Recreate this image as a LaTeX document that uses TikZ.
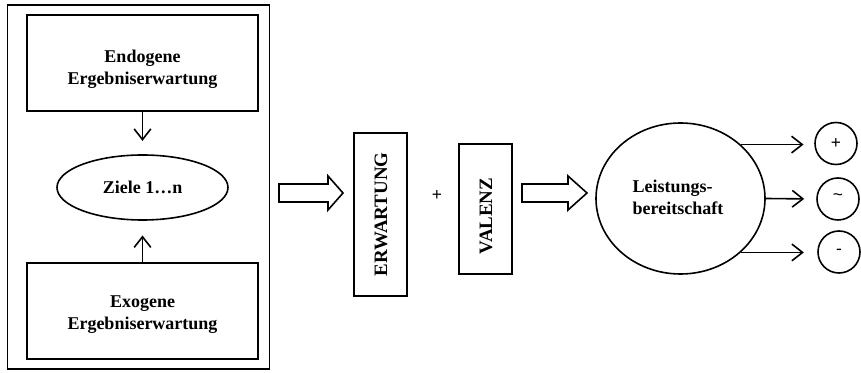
\documentclass[tikz,border=0pt]{standalone}
\usepackage{fontspec}
\setmainfont{Liberation Serif}
\newfontfamily\signfont{Liberation Sans}
\usetikzlibrary{arrows.meta,shapes.geometric}

\tikzset{
  box/.style={draw, line width=1.2pt, rectangle, inner sep=0pt},
  oval/.style={draw, line width=1.2pt, ellipse, inner sep=0pt},
  roundel/.style={draw, line width=1.2pt, circle, minimum size=31.5pt, inner sep=0pt, font=\signfont\fontsize{13}{15}\selectfont},
  lbl/.style={font=\bfseries\fontsize{13.5}{16.5}\selectfont, align=center, inner sep=0pt},
  vlbl/.style={font=\bfseries\fontsize{14.2}{16}\selectfont, rotate=90, inner sep=0pt},
  link/.style={line width=1.2pt, -{Straight Barb[length=8pt,width=12.5pt,line width=1.2pt]}},
  hollow/.style={draw, line width=1.2pt, fill=white, line join=miter}
}

\begin{document}
\begin{tikzpicture}[x=0.75pt, y=-0.75pt]
  \useasboundingbox (0,0) rectangle (861,373);

  % left frame with the two expectation boxes and the goal ellipse
  \draw[line width=1.4pt] (7.5,5) rectangle (269.5,369);
  \node[box, minimum width=173.25pt, minimum height=72pt] (endo) at (142.5,63) {};
  \node[lbl] at (142.5,69) {Endogene\\Ergebniserwartung};
  \node[box, minimum width=173.25pt, minimum height=72pt] (exo) at (142.5,311) {};
  \node[lbl] at (142.5,315) {Exogene\\Ergebniserwartung};
  \node[oval, minimum width=128.25pt, minimum height=48.75pt, font=\bfseries\fontsize{13.5}{16.5}\selectfont] (ziele) at (142.5,187.5) {Ziele 1…n};

  \draw[link, shorten >=10pt] (endo.south) -- (ziele.north);
  \draw[link, shorten >=11pt] (exo.north) -- (ziele.south);

  % block arrow into expectation
  \draw[hollow] (279,184) -- (328,184) -- (328,176) -- (343,193) -- (328,210) -- (328,202) -- (279,202) -- cycle;

  % expectation + valence
  \node[box, minimum width=39.75pt, minimum height=122.25pt] (erw) at (380.5,214.5) {};
  \node[vlbl] at (381,214.5) {ERWARTUNG};
  \node[font=\signfont\fontsize{13}{15}\selectfont, inner sep=0pt] (plus) at (437,196) {+};
  \node[box, minimum width=39.75pt, minimum height=97.5pt] (val) at (485.5,209) {};
  \node[vlbl] at (486,216) {VALENZ};

  % block arrow into readiness
  \draw[hollow] (522,184) -- (568,184) -- (568,176) -- (587,193) -- (568,210) -- (568,202) -- (522,202) -- cycle;

  % readiness to perform and its three outcomes
  \node[oval, minimum width=126.75pt, minimum height=113.25pt] (ready) at (680.5,198.5) {};
  \node[lbl, align=left] at (678,197) {Leistungs-\\bereitschaft};

  \node[roundel] (pos) at (836,143.5) {+};
  \node[roundel] (neu) at (838,199) {\raisebox{0.45ex}{\textasciitilde}};
  \node[roundel] (neg) at (839,252) {-};

  \draw[link, shorten >=8pt] (ready.north east) -- (ready.north east -| pos.west);
  \draw[link, shorten >=9pt] (ready.east) -- (neu.west);
  \draw[link, shorten >=10pt] (ready.south east) -- (ready.south east -| neg.west);
\end{tikzpicture}
\end{document}
